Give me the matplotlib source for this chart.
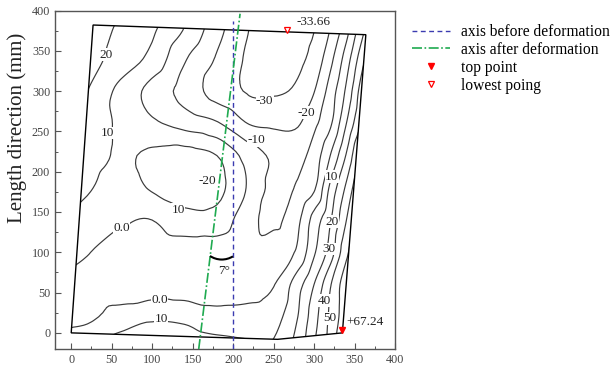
import numpy as np
import matplotlib
matplotlib.use('Agg')
import matplotlib.pyplot as plt
import matplotlib.tri as mtri
from matplotlib.patches import Polygon, Arc

# deflection on a coarse grid (rows follow GRID_Y, columns GRID_X)
GRID_X = [-20, 20, 60, 100, 140, 180, 220, 250, 280, 300, 320, 340, 360, 380]
GRID_Y = [-20, 20, 60, 100, 140, 180, 220, 260, 300, 340, 380, 400]
VALUES = [
    [2, 10, 17, 16.5, 17, 15, 13, 12, 25, 40, 54, 70, 76, 80],
    [-4, -2, 4, 8.3, 7.5, 3.7, 3.5, 6, 20, 36, 52, 66, 74, 80],
    [-1, -3, -5, -6, -6, -6, -4, -0.5, 16, 30, 49, 66, 74, 82],
    [8, 0.5, -4.5, -5, -5, -5.5, -7.5, -4, 2, 18.6, 34.5, 58, 70, 80],
    [10, 6, 1.5, 0, 6, 6, -7, -12, -2, 14, 29, 50, 68, 78],
    [16, 11, 6, 11, 15, 13, -1.5, -12.5, -8.75, -1.5, 22, 42, 62, 72],
    [18, 13.5, 9, 12, 14, 10, -4.5, -11.5, -13, -5.5, 10, 31, 55, 65],
    [22, 16, 8.3, 1.6, -3.75, -9, -20.5, -22, -21, -12.4, -1.7, 20, 42, 60],
    [30, 20, 7.5, -3.5, -13.5, -24, -31, -31, -28, -20.4, -5.7, 12, 36, 55],
    [32, 24, 16, 7, -9, -21, -31.5, -33, -32, -26.5, -13, 5, 27, 45],
    [30, 24, 19, 12, 0, -16, -30, -33, -33, -30.5, -20, -4, 17, 35],
    [30, 25, 20, 13, 1, -15, -30, -33, -33, -31, -21, -5, 15, 33],
]
LEVELS = [-30, -20, -10, 0, 10, 20, 30, 40, 50, 60]

# outline of the deformed plate
OUTLINE_X = [0, 190, 255, 335, 364, 27]
OUTLINE_Y = [0, -6, -8, 0, 370, 382]

AXIS_BEFORE_X = 200
AXIS_AFTER_X0 = 160   # where the tilted axis meets y = 0
TILT_DEG = 7

TOP_POINT = (335, 3)
TOP_VALUE = '+67.24'
LOWEST_POINT = (267, 376)
LOWEST_VALUE = '-33.66'

SERIF = 'Liberation Serif'


def draw_map(ax):
    X, Y = np.meshgrid(GRID_X, GRID_Y)
    Z = np.array(VALUES, dtype=float)
    plate = Polygon(list(zip(OUTLINE_X, OUTLINE_Y)), closed=True,
                    fill=False, edgecolor='black', linewidth=1.0, zorder=3)
    ax.add_patch(plate)

    # smooth the coarse grid a bit before contouring
    tri = mtri.Triangulation(X.ravel(), Y.ravel())
    interp = mtri.CubicTriInterpolator(tri, Z.ravel(), kind='geom')
    refiner = mtri.UniformTriRefiner(tri)
    tri_f, z_f = refiner.refine_field(Z.ravel(), triinterpolator=interp, subdiv=3)
    cs = ax.tricontour(tri_f, z_f, levels=LEVELS, colors='#3a3a3a',
                       linewidths=0.85, linestyles='solid', zorder=2)
    cs.set_clip_path(plate)

    # contour values written as in the original figure
    labels = [('20', 43, 345), ('10', 45, 248), ('0.0', 62, 130),
              ('10', 132, 153), ('-20', 168, 189), ('-10', 229, 239),
              ('-30', 239, 288), ('-20', 291, 273), ('10', 322, 194),
              ('20', 322, 138), ('30', 318, 104), ('40', 313, 40),
              ('50', 320, 18), ('0.0', 109, 41), ('10', 111, 17)]
    for txt, x, y in labels:
        ax.text(x, y, txt, ha='center', va='center', fontsize=9.5,
                family=SERIF, color='#222222', zorder=4,
                bbox=dict(facecolor='white', edgecolor='none', pad=0.3))


def draw_axes_lines(ax):
    ax.plot([AXIS_BEFORE_X, AXIS_BEFORE_X], [-20, 387], color='#3b3bb0',
            linestyle=(0, (3.5, 2.5)), linewidth=1.0, zorder=5,
            label='axis before deformation')
    k = np.tan(np.radians(TILT_DEG))
    yy = np.array([-20, 396])
    ax.plot(AXIS_AFTER_X0 + k * yy, yy, color='#1faa50',
            linestyle=(0, (6, 1.5, 1, 1.5)), linewidth=1.2, zorder=5,
            label='axis after deformation')
    # angle mark between the two axes
    ax.add_patch(Arc((AXIS_BEFORE_X - 14, 117), 52, 52, theta1=236,
                     theta2=302, color='black', linewidth=1.5, zorder=6))
    ax.text(189, 77, '7°', ha='center', va='center', fontsize=9.5,
            family=SERIF, color='#222222')


def draw_points(ax):
    ax.plot(*TOP_POINT, marker='v', color='red', markersize=4.8,
            linestyle='none', zorder=7, label='top point')
    ax.plot(*LOWEST_POINT, marker='v', markerfacecolor='white',
            markeredgecolor='red', markersize=4.8, markeredgewidth=0.9,
            linestyle='none', zorder=7, label='lowest poing')
    ax.text(TOP_POINT[0] + 5, 14, TOP_VALUE, ha='left', va='center',
            fontsize=9.5, family=SERIF, color='#222222')
    ax.text(LOWEST_POINT[0] + 11, 386, LOWEST_VALUE, ha='left', va='center',
            fontsize=9.5, family=SERIF, color='#222222')


def main():
    fig = plt.figure(figsize=(6.14, 3.69), dpi=100)
    ax = fig.add_axes([0.0896, 0.0542, 0.5537, 0.9173])
    draw_map(ax)
    draw_axes_lines(ax)
    draw_points(ax)

    ax.set_xlim(-20, 400)
    ax.set_ylim(-20, 400)
    ax.set_xticks(range(0, 401, 50))
    ax.set_yticks(range(0, 401, 50))
    ax.set_xticks(range(0, 401, 25), minor=True)
    ax.set_yticks(range(0, 401, 25), minor=True)
    ax.tick_params(which='both', direction='in', top=False, right=False,
                   labelsize=8.7, labelcolor='#444444', color='#555555')
    ax.tick_params(which='major', length=4.5, width=0.8)
    ax.tick_params(which='minor', length=2.5, width=0.7)
    for lab in ax.get_xticklabels() + ax.get_yticklabels():
        lab.set_family(SERIF)
    for sp in ax.spines.values():
        sp.set_color('#555555')
        sp.set_linewidth(1.0)

    fig.text(17 / 614, 1 - 128 / 369, 'Length direction (mm)', rotation=90,
             ha='center', va='center', fontsize=15, family=SERIF,
             color='#222222')

    ax.legend(loc='upper left', bbox_to_anchor=(1.049, 0.96), frameon=False,
              prop={'family': SERIF, 'size': 11.2}, handlelength=2.45,
              handletextpad=0.7, labelspacing=0.12, borderpad=0,
              borderaxespad=0, markerscale=0.8)

    fig.savefig('out.png', dpi=100)


if __name__ == '__main__':
    main()
